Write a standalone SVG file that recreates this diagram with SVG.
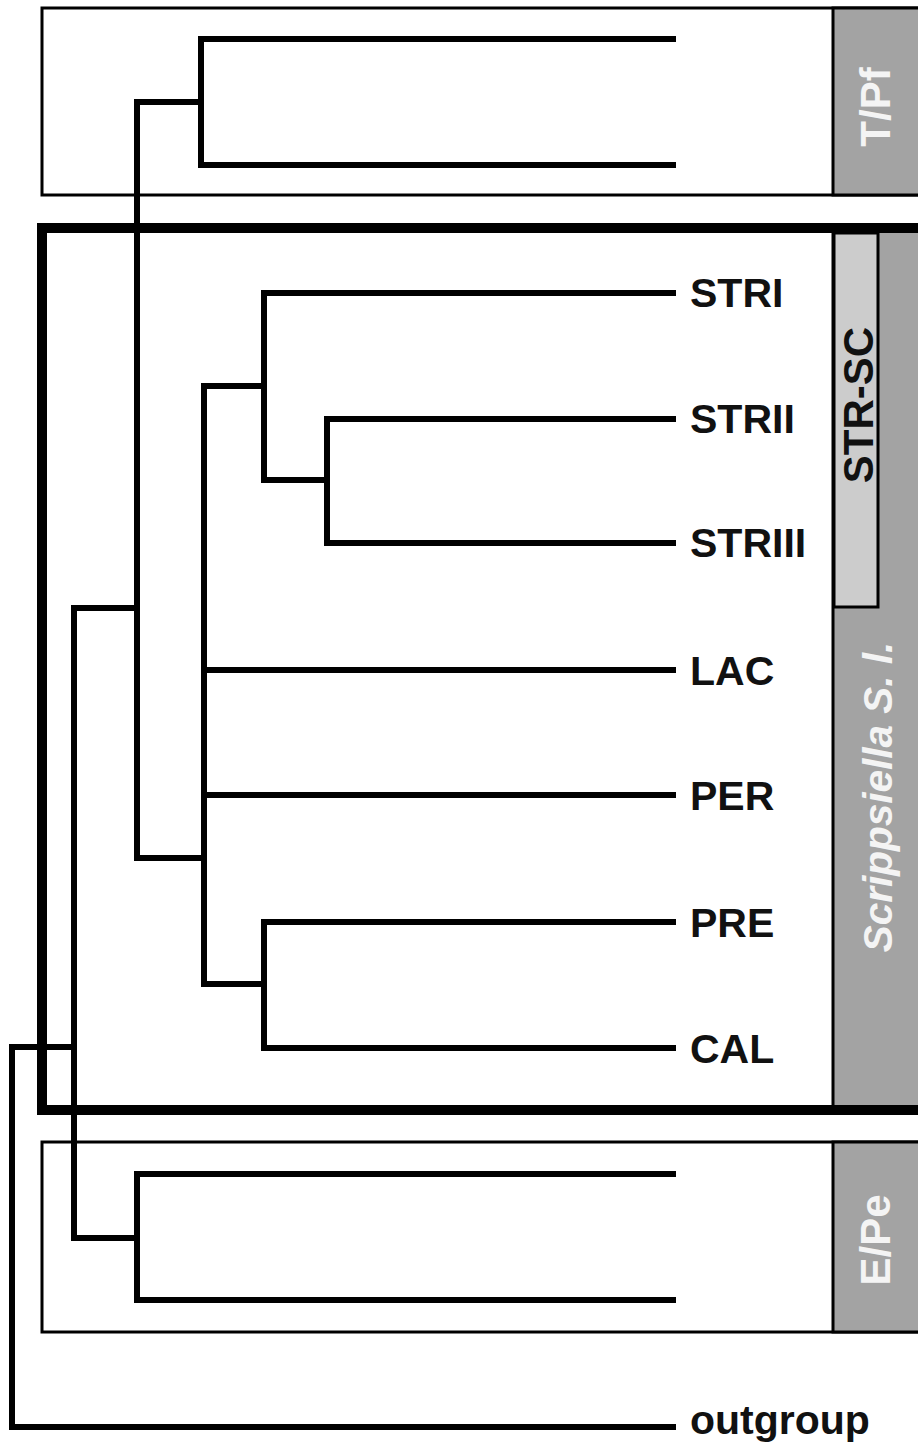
<svg xmlns="http://www.w3.org/2000/svg" width="918" height="1446" viewBox="0 0 918 1446">
<style>
.box{fill:#fff;stroke:#000;stroke-width:3}
.col{fill:#a3a3a3;stroke:#000;stroke-width:3}
.sub{fill:#cccccc;stroke:#000;stroke-width:3}
.thick{fill:none;stroke:#000;stroke-width:10}
.br{fill:none;stroke:#000;stroke-width:6;stroke-linejoin:miter;stroke-linecap:butt}
.tip{font-family:"Liberation Sans",Arial,sans-serif;font-weight:bold;font-size:41px;fill:#111}
.grp{font-family:"Liberation Sans",Arial,sans-serif;font-weight:bold;font-size:42px;fill:#f4f4f4;text-anchor:middle}
</style>
<rect width="918" height="1446" fill="#fff"/>
<g id="box-TPf">
<rect class="box" x="42" y="8" width="900" height="187"/>
<rect class="col" x="833" y="8" width="100" height="187"/>
<text class="grp" transform="translate(890,107) rotate(-90)">T/Pf</text>
</g>
<g id="box-Scrippsiella">
<rect x="42" y="228" width="900" height="882" fill="#fff"/>
<rect class="col" x="833" y="230" width="100" height="878"/>
<text class="grp" style="font-style:italic;font-size:40.5px" transform="translate(892,797) rotate(-90)">Scrippsiella S. l.</text>
<rect class="thick" x="42" y="228" width="900" height="882"/>
</g>
<g id="box-STR-SC">
<rect class="sub" x="834" y="233" width="44" height="374"/>
<text class="grp" style="fill:#111" transform="translate(873,405) rotate(-90)">STR-SC</text>
</g>
<g id="box-EPe">
<rect class="box" x="42" y="1142" width="900" height="190"/>
<rect class="col" x="833" y="1142" width="100" height="190"/>
<text class="grp" transform="translate(890,1240) rotate(-90)">E/Pe</text>
</g>
<g id="connectors">
<path class="br" d="M676,39 H201 V165 H676"/>
<path class="br" d="M201,102 H137 V858 H204"/>
<path class="br" d="M137,608 H74 V1238 H137"/>
<path class="br" d="M676,1174 H137 V1300 H676"/>
<path class="br" d="M74,1047 H12 V1427 H676"/>
<path class="br" d="M264,386 H204 V984 H264"/>
<path class="br" d="M204,670 H676"/>
<path class="br" d="M204,795 H676"/>
<path class="br" d="M676,293 H264 V480 H327"/>
<path class="br" d="M676,419 H327 V543 H676"/>
<path class="br" d="M676,922 H264 V1048 H676"/>
</g>
<g id="node-STRI"><text class="tip" x="690" y="307">STRI</text></g>
<g id="node-STRII"><text class="tip" x="690" y="433">STRII</text></g>
<g id="node-STRIII"><text class="tip" x="690" y="557">STRIII</text></g>
<g id="node-LAC"><text class="tip" x="690" y="685">LAC</text></g>
<g id="node-PER"><text class="tip" x="690" y="810">PER</text></g>
<g id="node-PRE"><text class="tip" x="690" y="937">PRE</text></g>
<g id="node-CAL"><text class="tip" x="690" y="1063">CAL</text></g>
<g id="node-outgroup"><text class="tip" x="690" y="1434">outgroup</text></g>
</svg>
